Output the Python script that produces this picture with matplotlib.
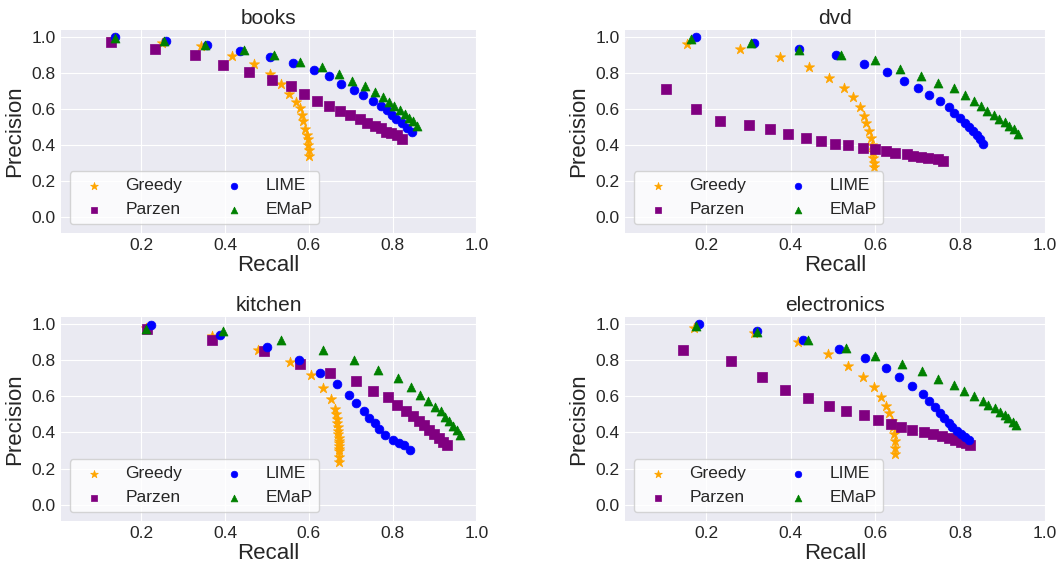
import matplotlib
matplotlib.use('Agg')
import matplotlib.pyplot as plt

# ---- data (recall / precision) ----
DATASETS = ["books", "dvd", "kitchen", "electronics"]
METHODS = ["Greedy", "Parzen", "LIME", "EMaP"]

BOOKS_GREEDY_R = [0.13, 0.25, 0.343, 0.417, 0.47, 0.506, 0.533, 0.552, 0.568, 0.578, 0.583, 0.587, 0.591, 0.595, 0.597, 0.598, 0.599, 0.599]
BOOKS_GREEDY_P = [0.99, 0.97, 0.948, 0.896, 0.85, 0.796, 0.738, 0.684, 0.64, 0.604, 0.567, 0.53, 0.49, 0.455, 0.43, 0.40, 0.372, 0.34]
BOOKS_PARZEN_R = [0.128, 0.233, 0.327, 0.396, 0.458, 0.511, 0.557, 0.589, 0.619, 0.649, 0.674, 0.698, 0.722, 0.739, 0.757, 0.771, 0.783, 0.797, 0.810, 0.822]
BOOKS_PARZEN_P = [0.972, 0.935, 0.898, 0.846, 0.803, 0.76, 0.725, 0.682, 0.645, 0.619, 0.589, 0.567, 0.543, 0.524, 0.507, 0.491, 0.474, 0.465, 0.452, 0.435]
BOOKS_LIME_R = [0.138, 0.259, 0.357, 0.435, 0.506, 0.563, 0.612, 0.648, 0.676, 0.708, 0.729, 0.752, 0.771, 0.787, 0.799, 0.809, 0.822, 0.833, 0.845]
BOOKS_LIME_P = [1.0, 0.98, 0.957, 0.924, 0.89, 0.855, 0.818, 0.783, 0.74, 0.706, 0.675, 0.643, 0.619, 0.593, 0.567, 0.543, 0.519, 0.496, 0.474]
BOOKS_EMAP_R = [0.138, 0.253, 0.353, 0.445, 0.517, 0.579, 0.632, 0.671, 0.704, 0.735, 0.757, 0.776, 0.790, 0.803, 0.818, 0.829, 0.839, 0.849, 0.859]
BOOKS_EMAP_P = [0.994, 0.976, 0.954, 0.929, 0.901, 0.864, 0.833, 0.797, 0.758, 0.73, 0.697, 0.665, 0.641, 0.619, 0.593, 0.571, 0.552, 0.53, 0.507]

DVD_GREEDY_R = [0.154, 0.281, 0.374, 0.442, 0.491, 0.525, 0.548, 0.564, 0.572, 0.578, 0.584, 0.590, 0.592, 0.594, 0.595, 0.597, 0.596]
DVD_GREEDY_P = [0.963, 0.935, 0.892, 0.833, 0.775, 0.719, 0.664, 0.612, 0.563, 0.519, 0.478, 0.437, 0.40, 0.362, 0.329, 0.297, 0.279]
DVD_PARZEN_R = [0.104, 0.175, 0.233, 0.302, 0.35, 0.394, 0.435, 0.472, 0.504, 0.536, 0.571, 0.598, 0.625, 0.647, 0.674, 0.689, 0.708, 0.725, 0.747, 0.759]
DVD_PARZEN_P = [0.712, 0.6, 0.533, 0.513, 0.487, 0.459, 0.439, 0.424, 0.407, 0.398, 0.385, 0.377, 0.366, 0.355, 0.349, 0.34, 0.333, 0.325, 0.322, 0.312]
DVD_LIME_R = [0.176, 0.313, 0.419, 0.507, 0.574, 0.627, 0.667, 0.701, 0.727, 0.752, 0.774, 0.785, 0.800, 0.811, 0.822, 0.831, 0.840, 0.848, 0.855]
DVD_LIME_P = [1.0, 0.97, 0.935, 0.898, 0.849, 0.803, 0.758, 0.717, 0.677, 0.645, 0.608, 0.576, 0.548, 0.524, 0.5, 0.478, 0.455, 0.431, 0.407]
DVD_EMAP_R = [0.165, 0.306, 0.420, 0.518, 0.598, 0.657, 0.708, 0.747, 0.785, 0.811, 0.834, 0.849, 0.863, 0.879, 0.892, 0.907, 0.916, 0.927, 0.937]
DVD_EMAP_P = [0.989, 0.97, 0.929, 0.898, 0.87, 0.822, 0.786, 0.743, 0.716, 0.677, 0.645, 0.615, 0.586, 0.567, 0.545, 0.526, 0.507, 0.487, 0.463]

KITCHEN_GREEDY_R = [0.212, 0.369, 0.478, 0.555, 0.604, 0.634, 0.652, 0.663, 0.665, 0.666, 0.668, 0.669, 0.670, 0.670, 0.671, 0.671, 0.672, 0.672, 0.673, 0.673, 0.673, 0.673]
KITCHEN_GREEDY_P = [0.981, 0.933, 0.859, 0.79, 0.717, 0.647, 0.587, 0.528, 0.50, 0.474, 0.45, 0.428, 0.41, 0.39, 0.37, 0.353, 0.34, 0.325, 0.31, 0.297, 0.264, 0.238]
KITCHEN_PARZEN_R = [0.213, 0.369, 0.493, 0.578, 0.651, 0.713, 0.753, 0.788, 0.81, 0.831, 0.849, 0.863, 0.874, 0.886, 0.898, 0.91, 0.92, 0.929]
KITCHEN_PARZEN_P = [0.974, 0.911, 0.851, 0.781, 0.732, 0.686, 0.632, 0.595, 0.554, 0.517, 0.489, 0.465, 0.441, 0.416, 0.394, 0.372, 0.349, 0.329]
KITCHEN_LIME_R = [0.224, 0.388, 0.5, 0.576, 0.626, 0.666, 0.695, 0.713, 0.731, 0.743, 0.757, 0.768, 0.782, 0.8, 0.815, 0.827, 0.841]
KITCHEN_LIME_P = [0.998, 0.942, 0.874, 0.801, 0.732, 0.669, 0.61, 0.563, 0.52, 0.483, 0.452, 0.422, 0.387, 0.359, 0.344, 0.329, 0.305]
KITCHEN_EMAP_R = [0.21, 0.396, 0.534, 0.634, 0.708, 0.765, 0.812, 0.843, 0.865, 0.885, 0.901, 0.915, 0.925, 0.935, 0.945, 0.954, 0.96]
KITCHEN_EMAP_P = [0.976, 0.961, 0.914, 0.855, 0.799, 0.747, 0.701, 0.654, 0.61, 0.572, 0.543, 0.517, 0.487, 0.461, 0.437, 0.413, 0.387]

ELEC_GREEDY_R = [0.172, 0.314, 0.418, 0.487, 0.536, 0.571, 0.596, 0.613, 0.625, 0.633, 0.638, 0.641, 0.644, 0.645, 0.647, 0.647]
ELEC_GREEDY_P = [0.981, 0.952, 0.9, 0.833, 0.77, 0.706, 0.651, 0.599, 0.548, 0.506, 0.465, 0.428, 0.39, 0.353, 0.316, 0.283]
ELEC_PARZEN_R = [0.146, 0.259, 0.331, 0.385, 0.441, 0.49, 0.531, 0.574, 0.605, 0.636, 0.66, 0.687, 0.714, 0.736, 0.757, 0.773, 0.789, 0.802, 0.814, 0.823]
ELEC_PARZEN_P = [0.859, 0.796, 0.71, 0.638, 0.591, 0.546, 0.517, 0.496, 0.47, 0.446, 0.428, 0.416, 0.403, 0.39, 0.379, 0.368, 0.359, 0.349, 0.34, 0.331]
ELEC_LIME_R = [0.183, 0.32, 0.429, 0.513, 0.575, 0.625, 0.656, 0.686, 0.712, 0.727, 0.741, 0.752, 0.763, 0.773, 0.782, 0.792, 0.802, 0.811, 0.82]
ELEC_LIME_P = [1.0, 0.961, 0.911, 0.862, 0.81, 0.758, 0.706, 0.658, 0.613, 0.576, 0.539, 0.507, 0.48, 0.454, 0.431, 0.409, 0.39, 0.375, 0.357]
ELEC_EMAP_R = [0.176, 0.32, 0.44, 0.53, 0.6, 0.663, 0.709, 0.747, 0.785, 0.81, 0.832, 0.853, 0.867, 0.882, 0.894, 0.905, 0.914, 0.924, 0.932]
ELEC_EMAP_P = [0.989, 0.954, 0.914, 0.87, 0.822, 0.781, 0.738, 0.697, 0.662, 0.628, 0.6, 0.576, 0.554, 0.533, 0.515, 0.496, 0.48, 0.459, 0.441]

X_TICKS = [0.2, 0.4, 0.6, 0.8, 1.0]
Y_TICKS = [0.0, 0.2, 0.4, 0.6, 0.8, 1.0]

CURVES = {
    "books": [(BOOKS_GREEDY_R, BOOKS_GREEDY_P), (BOOKS_PARZEN_R, BOOKS_PARZEN_P),
              (BOOKS_LIME_R, BOOKS_LIME_P), (BOOKS_EMAP_R, BOOKS_EMAP_P)],
    "dvd": [(DVD_GREEDY_R, DVD_GREEDY_P), (DVD_PARZEN_R, DVD_PARZEN_P),
            (DVD_LIME_R, DVD_LIME_P), (DVD_EMAP_R, DVD_EMAP_P)],
    "kitchen": [(KITCHEN_GREEDY_R, KITCHEN_GREEDY_P), (KITCHEN_PARZEN_R, KITCHEN_PARZEN_P),
                (KITCHEN_LIME_R, KITCHEN_LIME_P), (KITCHEN_EMAP_R, KITCHEN_EMAP_P)],
    "electronics": [(ELEC_GREEDY_R, ELEC_GREEDY_P), (ELEC_PARZEN_R, ELEC_PARZEN_P),
                    (ELEC_LIME_R, ELEC_LIME_P), (ELEC_EMAP_R, ELEC_EMAP_P)],
}

STYLES = [('orange', '*', 60), ('purple', 's', 42), ('blue', 'o', 40), ('green', '^', 42)]

plt.style.use('seaborn-v0_8-darkgrid')
plt.rcParams['font.family'] = ['Liberation Sans', 'DejaVu Sans']
plt.rcParams['text.color'] = '#262626'
plt.rcParams['axes.labelcolor'] = '#262626'
plt.rcParams['xtick.color'] = '#262626'
plt.rcParams['ytick.color'] = '#262626'

fig = plt.figure(figsize=(10.6, 5.65), dpi=100)
rects = [
    [0.0575, 0.588, 0.392, 0.359],
    [0.5896, 0.588, 0.396, 0.359],
    [0.0575, 0.078, 0.392, 0.361],
    [0.5896, 0.078, 0.396, 0.361],
]

for name, rect in zip(DATASETS, rects):
    ax = fig.add_axes(rect)
    for (rec, prec), label, (col, mk, sz) in zip(CURVES[name], METHODS, STYLES):
        ax.scatter(rec, prec, color=col, marker=mk, s=sz, label=label, linewidths=0.5)
    ax.set_xlim(0.008, 1.0)
    ax.set_ylim(-0.09, 1.04)
    ax.set_xticks(X_TICKS)
    ax.set_yticks(Y_TICKS)
    ax.tick_params(labelsize=12.5, pad=4)
    ax.set_title(name, fontsize=15, pad=4)
    ax.set_xlabel("Recall", fontsize=16, labelpad=1)
    ax.set_ylabel("Precision", fontsize=16, labelpad=4)
    ax.legend(loc='lower left', ncol=2, fontsize=12.5, frameon=True, markerscale=0.75,
              framealpha=0.8, facecolor='white', edgecolor='#cccccc')

fig.savefig("out.png", dpi=100)
